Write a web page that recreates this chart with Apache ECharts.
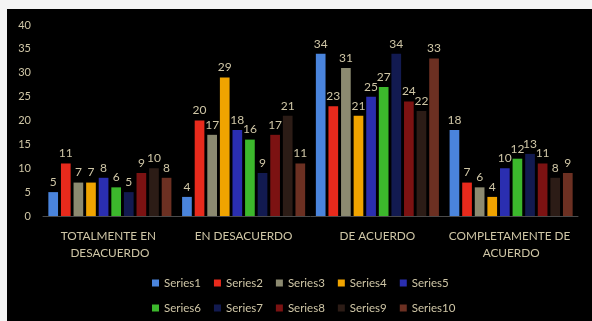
<!DOCTYPE html>
<html>
<head>
<meta charset="utf-8">
<script src="https://cdn.jsdelivr.net/npm/echarts@6/dist/echarts.min.js"></script>
<style>
  html, body { margin: 0; padding: 0; background: #f4f4f4; }
  #chart { position: absolute; left: 7px; top: 9px; width: 585px; height: 312px; background: #000; }
</style>
</head>
<body>
<div id="chart"></div>
<script>
const categories = ['TOTALMENTE EN DESACUERDO', 'EN DESACUERDO', 'DE ACUERDO', 'COMPLETAMENTE DE ACUERDO'];
const seriesNames = ['Series1', 'Series2', 'Series3', 'Series4', 'Series5', 'Series6', 'Series7', 'Series8', 'Series9', 'Series10'];
const seriesColors = ['#4a84dc', '#e82a1c', '#8c8a70', '#f0a400', '#2a2eb0', '#3cb82c', '#121a50', '#7c1212', '#2c1c16', '#6c3022'];

const series1 = [5, 4, 34, 18];
const series2 = [11, 20, 23, 7];
const series3 = [7, 17, 31, 6];
const series4 = [7, 29, 21, 4];
const series5 = [8, 18, 25, 10];
const series6 = [6, 16, 27, 12];
const series7 = [5, 9, 34, 13];
const series8 = [9, 17, 24, 11];
const series9 = [10, 21, 22, 8];
const series10 = [8, 11, 33, 9];
const allSeries = [series1, series2, series3, series4, series5, series6, series7, series8, series9, series10];

const txt = '#cfc6a6';
const fontFamily = 'Lato, "Open Sans", sans-serif';

const chart = echarts.init(document.querySelector('#chart'));

// two legend rows of five, like the original
const legendBase = {
    icon: 'rect',
    itemWidth: 7,
    itemHeight: 7,
    itemGap: 13,
    left: 140,
    textStyle: { color: txt, fontSize: 11.5, fontFamily: fontFamily }
};

chart.setOption({
    backgroundColor: '#000',
    animation: false,
    color: seriesColors,
    grid: { left: 36, right: 14, top: 16, bottom: 105 },
    legend: [
        Object.assign({}, legendBase, { top: 263, data: seriesNames.slice(0, 5) }),
        Object.assign({}, legendBase, { top: 288, data: seriesNames.slice(5) })
    ],
    xAxis: {
        type: 'category',
        data: categories,
        axisLine: { lineStyle: { color: '#4a4a4a' } },
        axisTick: { show: false },
        axisLabel: {
            color: txt,
            fontSize: 11.8,
            fontFamily: fontFamily,
            margin: 12,
            width: 128,
            overflow: 'break',
            lineHeight: 17,
            interval: 0
        }
    },
    yAxis: {
        type: 'value',
        min: 0,
        max: 40,
        interval: 5,
        splitLine: { show: false },
        axisLine: { show: false },
        axisTick: { show: false },
        axisLabel: { color: txt, fontSize: 11, fontFamily: fontFamily, margin: 12 }
    },
    series: seriesNames.map((name, i) => ({
        name: name,
        type: 'bar',
        data: allSeries[i],
        barGap: '30%',
        barCategoryGap: '8%',
        label: {
            show: true,
            position: 'top',
            distance: 4,
            color: txt,
            fontSize: 12,
            fontFamily: fontFamily
        }
    }))
});
</script>
</body>
</html>
